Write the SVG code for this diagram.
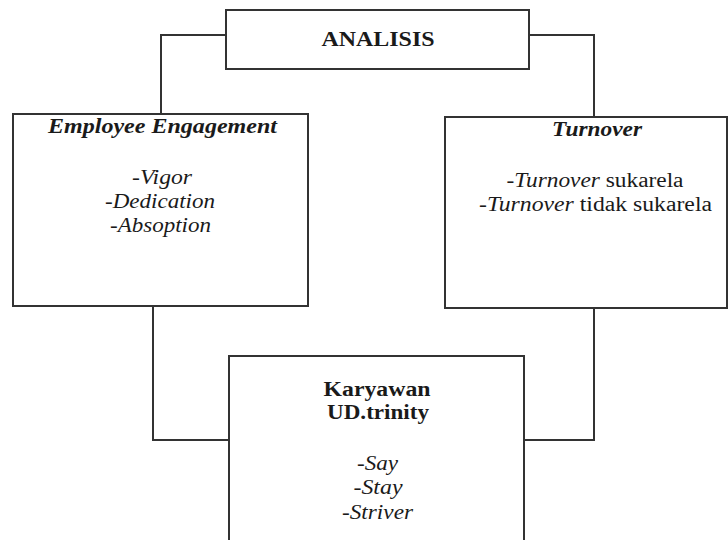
<svg xmlns="http://www.w3.org/2000/svg" width="728" height="540" viewBox="0 0 728 540">
<style>
.box{fill:#fff;stroke:#333;stroke-width:2}
.ln{fill:none;stroke:#333;stroke-width:2}
.t{font-size:20px;fill:#1a1a1a;text-anchor:middle}
.b{font-weight:bold}
.i{font-style:italic}
</style>
<rect width="728" height="540" fill="#fff"/>
<g id="connectors">
<polyline class="ln" points="226,35 161,35 161,114"/>
<polyline class="ln" points="529,35 594,35 594,117"/>
<polyline class="ln" points="153,306 153,440 229,440"/>
<polyline class="ln" points="594,308 594,440 524,440"/>
</g>
<g font-family="Times New Roman, Liberation Serif, DejaVu Serif, serif">
<g id="analisis">
<rect class="box" x="226" y="10" width="303" height="59"/>
<text class="t b" x="378" y="46" textLength="113" lengthAdjust="spacingAndGlyphs">ANALISIS</text>
</g>
<g id="employee-engagement">
<rect class="box" x="13" y="114" width="295" height="192"/>
<text class="t b i" x="162.5" y="133" textLength="229" lengthAdjust="spacingAndGlyphs">Employee Engagement</text>
<text class="t i" x="162" y="184" textLength="60" lengthAdjust="spacingAndGlyphs">-Vigor</text>
<text class="t i" x="160" y="208" textLength="110" lengthAdjust="spacingAndGlyphs">-Dedication</text>
<text class="t i" x="160.5" y="232" textLength="101" lengthAdjust="spacingAndGlyphs">-Absoption</text>
</g>
<g id="turnover">
<rect class="box" x="445" y="117" width="282" height="191"/>
<text class="t b i" x="597" y="136" textLength="90" lengthAdjust="spacingAndGlyphs">Turnover</text>
<text class="t" x="595" y="187" textLength="177" lengthAdjust="spacingAndGlyphs">-<tspan class="i">Turnover</tspan> sukarela</text>
<text class="t" x="595.5" y="211" textLength="233" lengthAdjust="spacingAndGlyphs">-<tspan class="i">Turnover</tspan> tidak sukarela</text>
</g>
<g id="karyawan">
<rect class="box" x="229" y="356" width="295" height="200"/>
<text class="t b" x="377" y="396" textLength="107" lengthAdjust="spacingAndGlyphs">Karyawan</text>
<text class="t b" x="378" y="419" textLength="102" lengthAdjust="spacingAndGlyphs">UD.trinity</text>
<text class="t i" x="377.5" y="470" textLength="41" lengthAdjust="spacingAndGlyphs">-Say</text>
<text class="t i" x="378" y="494" textLength="49" lengthAdjust="spacingAndGlyphs">-Stay</text>
<text class="t i" x="377.5" y="519" textLength="71" lengthAdjust="spacingAndGlyphs">-Striver</text>
</g>
</g>
</svg>
